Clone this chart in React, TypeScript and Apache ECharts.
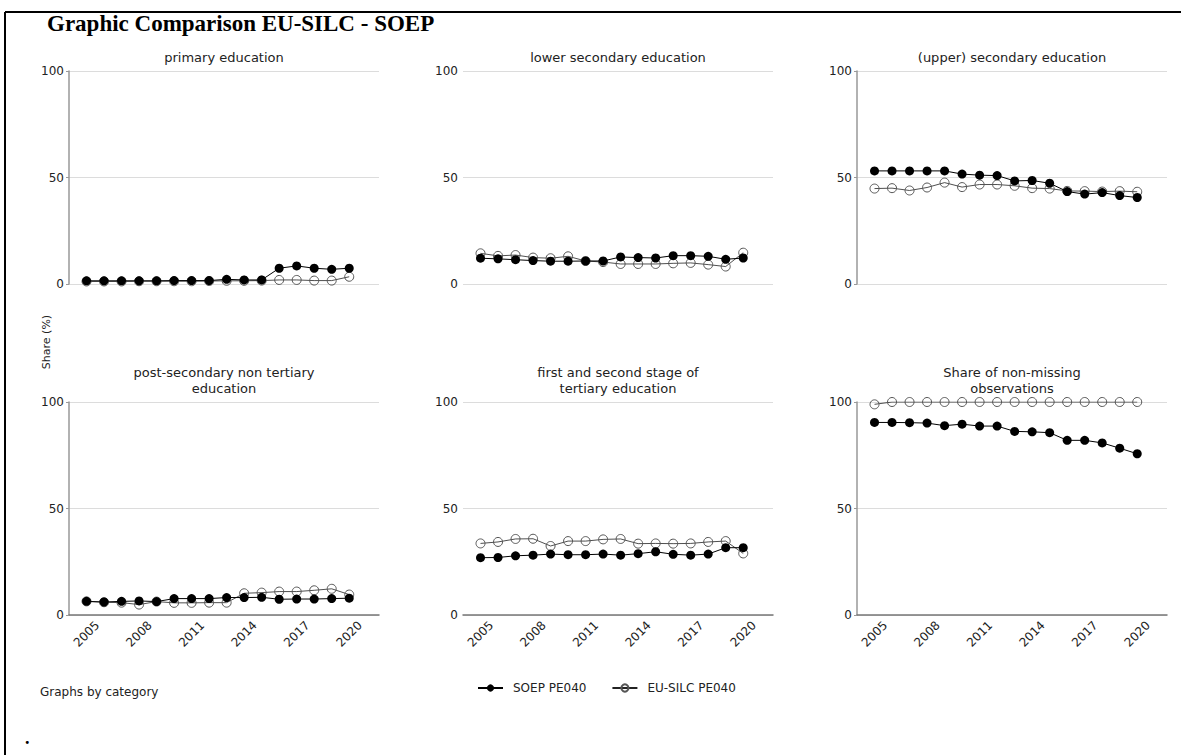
import React, { useEffect, useRef } from "react";
import * as echarts from "echarts";

const years = [2005, 2006, 2007, 2008, 2009, 2010, 2011, 2012, 2013, 2014, 2015, 2016, 2017, 2018, 2019, 2020];
const xTickLabels = [2005, 2008, 2011, 2014, 2017, 2020];

const panelTitles = [
  ["primary education"],
  ["lower secondary education"],
  ["(upper) secondary education"],
  ["post-secondary non tertiary", "education"],
  ["first and second stage of", "tertiary education"],
  ["Share of non-missing", "observations"],
];

const soepName = "SOEP PE040";
const euName = "EU-SILC PE040";

const primarySOEP = [1.5, 1.5, 1.5, 1.5, 1.5, 1.6, 1.6, 1.6, 2.2, 1.9, 1.9, 7.4, 8.5, 7.4, 6.9, 7.4];
const primaryEU = [1.2, 1.2, 1.2, 1.3, 1.3, 1.3, 1.3, 1.4, 1.5, 1.5, 1.6, 1.9, 1.9, 1.6, 1.6, 3.4];

const lowerSOEP = [12.1, 11.8, 11.4, 11.0, 10.7, 10.7, 10.8, 10.8, 12.7, 12.4, 12.2, 13.3, 13.3, 13.0, 11.6, 12.2];
const lowerEU = [14.4, 13.2, 13.6, 12.4, 12.1, 13.0, 10.8, 10.3, 9.4, 9.4, 9.4, 9.7, 9.9, 9.1, 8.2, 14.7];

const upperSOEP = [53.1, 53.1, 53.1, 53.1, 53.1, 51.6, 51.1, 50.9, 48.4, 48.6, 47.3, 43.4, 42.2, 42.9, 41.5, 40.6];
const upperEU = [44.8, 45.0, 43.9, 45.3, 47.6, 45.5, 46.7, 46.7, 46.1, 45.0, 44.8, 43.7, 43.6, 43.4, 43.6, 43.3];

const postSOEP = [6.4, 6.1, 6.4, 6.6, 6.3, 7.7, 7.7, 7.7, 8.2, 8.2, 8.3, 7.4, 7.5, 7.5, 7.7, 7.9];
const postEU = [6.4, 6.0, 5.8, 4.9, 6.3, 5.7, 5.7, 5.8, 5.8, 10.2, 10.5, 11.0, 11.0, 11.6, 12.3, 9.6];

const tertSOEP = [26.9, 27.0, 27.8, 28.1, 28.6, 28.3, 28.3, 28.6, 28.1, 28.8, 29.7, 28.5, 28.1, 28.6, 31.6, 31.6];
const tertEU = [33.6, 34.3, 35.7, 35.8, 32.4, 34.7, 34.7, 35.5, 35.7, 33.5, 33.6, 33.5, 33.6, 34.3, 34.7, 28.9];

const nonMissSOEP = [90.4, 90.4, 90.3, 90.1, 88.9, 89.6, 88.7, 88.7, 86.2, 86.0, 85.6, 82.0, 82.0, 80.8, 78.3, 75.7];
const nonMissEU = [98.9, 100, 100, 100, 100, 100, 100, 100, 100, 100, 100, 100, 100, 100, 100, 100];

const FONT = '"DejaVu Sans", "Noto Sans", sans-serif';

export default function App() {
  const ref = useRef<HTMLDivElement>(null);

  useEffect(() => {
    const chart = echarts.init(ref.current!, null, { renderer: "svg" });
    const soep = [primarySOEP, lowerSOEP, upperSOEP, postSOEP, tertSOEP, nonMissSOEP];
    const eu = [primaryEU, lowerEU, upperEU, postEU, tertEU, nonMissEU];
    const lefts = [69, 463, 857];
    const tops = [71, 402];
    const W = 310;
    const H = 213;

    const grid: any[] = [];
    const xAxis: any[] = [];
    const yAxis: any[] = [];
    const series: any[] = [];
    const graphic: any[] = [];

    for (let i = 0; i < 6; i++) {
      const row = Math.floor(i / 3);
      const col = i % 3;
      const bottomRow = row === 1;
      grid.push({ left: lefts[col], top: tops[row], width: W, height: H });
      xAxis.push({
        type: "value",
        gridIndex: i,
        min: 2004,
        max: 2021.7,
        interval: 1,
        show: bottomRow,
        splitLine: { show: false },
        axisTick: { show: false },
        axisLine: { show: bottomRow, onZero: false, lineStyle: { color: "#777", width: 1.5 } },
        axisLabel: {
          show: bottomRow,
          rotate: 45,
          align: "center",
          verticalAlign: "middle",
          margin: 19,
          fontSize: 12,
          fontFamily: FONT,
          color: "#222",
          showMaxLabel: false,
          formatter: (v: number) => (xTickLabels.indexOf(v) >= 0 ? String(v) : ""),
        },
      });
      const showYLine = col !== 1;
      yAxis.push({
        type: "value",
        gridIndex: i,
        min: 0,
        max: 100,
        interval: 50,
        axisLine: { show: showYLine, lineStyle: { color: "#999", width: 1.5 } },
        axisTick: { show: showYLine, length: 3, lineStyle: { color: "#999" } },
        splitLine: { show: true, lineStyle: { color: "#dcdcdc", width: 1 } },
        axisLabel: { fontSize: 12, fontFamily: FONT, color: "#222", margin: 5 },
      });
      series.push({
        name: euName,
        type: "line",
        xAxisIndex: i,
        yAxisIndex: i,
        data: years.map((y, k) => [y, eu[i][k]]),
        symbol: "circle",
        symbolSize: 9,
        z: 2,
        lineStyle: { color: "#222", width: 0.8 },
        itemStyle: { color: "rgba(255,255,255,0)", borderColor: "#555", borderWidth: 1 },
      });
      series.push({
        name: soepName,
        type: "line",
        xAxisIndex: i,
        yAxisIndex: i,
        data: years.map((y, k) => [y, soep[i][k]]),
        symbol: "circle",
        symbolSize: 9,
        z: 3,
        lineStyle: { color: "#000", width: 1 },
        itemStyle: { color: "#000" },
      });

      const cx = lefts[col] + W / 2;
      const lines = panelTitles[i];
      const lastY = tops[row] - 14;
      lines.forEach((t, li) => {
        graphic.push({
          type: "text",
          x: cx,
          y: lastY - (lines.length - 1 - li) * 16,
          style: {
            text: t,
            align: "center",
            verticalAlign: "middle",
            textAlign: "center",
            textVerticalAlign: "middle",
            font: `13px ${FONT}`,
            fill: "#222",
          },
        });
      });
    }

    graphic.push(
      {
        type: "line",
        shape: { x1: 5, y1: 12, x2: 1181, y2: 12 },
        style: { stroke: "#000", lineWidth: 2 },
      },
      {
        type: "line",
        shape: { x1: 5, y1: 12, x2: 5, y2: 755 },
        style: { stroke: "#000", lineWidth: 2 },
      },
      {
        type: "text",
        x: 47,
        y: 23,
        style: {
          text: "Graphic Comparison EU-SILC - SOEP",
          align: "left",
          verticalAlign: "middle",
          textAlign: "left",
          textVerticalAlign: "middle",
          font: 'bold 23px "Liberation Serif", "Times New Roman", serif',
          fill: "#000",
        },
      },
      {
        type: "text",
        x: 46,
        y: 342,
        rotation: Math.PI / 2,
        style: {
          text: "Share (%)",
          align: "center",
          verticalAlign: "middle",
          textAlign: "center",
          textVerticalAlign: "middle",
          font: `11px ${FONT}`,
          fill: "#222",
        },
      },
      {
        type: "text",
        x: 40,
        y: 692,
        style: {
          text: "Graphs by category",
          align: "left",
          verticalAlign: "middle",
          textAlign: "left",
          textVerticalAlign: "middle",
          font: `12px ${FONT}`,
          fill: "#222",
        },
      },
      {
        type: "text",
        x: 25,
        y: 738,
        style: {
          text: ".",
          align: "left",
          verticalAlign: "middle",
          textAlign: "left",
          textVerticalAlign: "middle",
          font: 'bold 18px "Liberation Serif", serif',
          fill: "#000",
        },
      }
    );

    chart.setOption({
      animation: false,
      backgroundColor: "#fff",
      grid,
      xAxis,
      yAxis,
      series,
      graphic,
      legend: {
        data: [soepName, euName],
        left: 472,
        top: 677,
        itemWidth: 25,
        itemHeight: 9,
        itemGap: 25,
        textStyle: { fontSize: 12, fontFamily: FONT, color: "#222", padding: [0, 0, 0, 5] },
      },
    });

    return () => chart.dispose();
  }, []);

  return (
    <div
      ref={ref}
      style={{ position: "fixed", left: 0, top: 0, width: 1181, height: 755, background: "#fff" }}
    />
  );
}
